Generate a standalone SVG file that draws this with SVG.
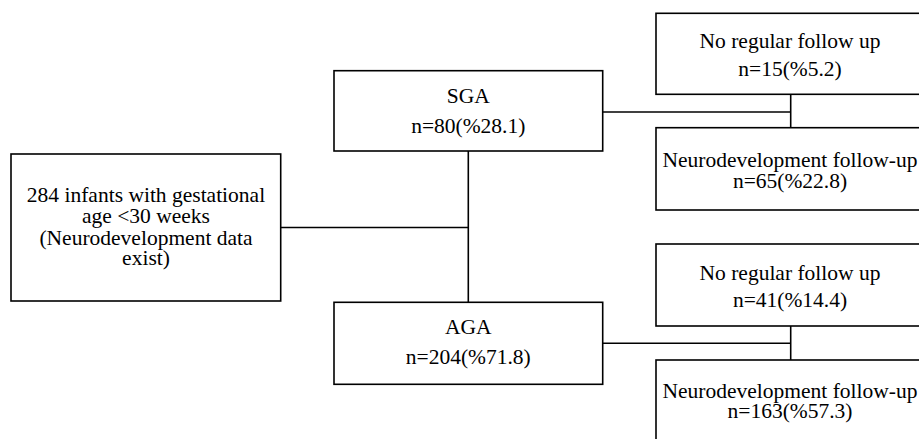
<svg xmlns="http://www.w3.org/2000/svg" width="919" height="439" viewBox="0 0 919 439">
<style>
.box{fill:#fff;stroke:#000;stroke-width:1.6}
.ln{fill:none;stroke:#000;stroke-width:1.6}
.t{font-family:'Liberation Serif','DejaVu Serif',serif;font-size:21.5px;fill:#000;text-anchor:middle}
</style>
<rect width="919" height="439" fill="#fff"/>
<g id="connectors">
<line class="ln" x1="281" y1="227.5" x2="468.3" y2="227.5"/>
<line class="ln" x1="468.3" y1="151" x2="468.3" y2="302.3"/>
<line class="ln" x1="602.7" y1="112" x2="790.7" y2="112"/>
<line class="ln" x1="790.7" y1="94.3" x2="790.7" y2="127.7"/>
<line class="ln" x1="602.7" y1="343.3" x2="790.7" y2="343.3"/>
<line class="ln" x1="790.7" y1="326" x2="790.7" y2="360"/>
</g>
<g id="root">
<rect class="box" x="11" y="154" width="269.7" height="147"/>
<text class="t" x="146" y="201.7" font-family="Liberation Serif, serif">284 infants with gestational</text>
<text class="t" x="146" y="222.7" font-family="Liberation Serif, serif">age &lt;30 weeks</text>
<text class="t" x="146" y="244.5" font-family="Liberation Serif, serif">(Neurodevelopment data</text>
<text class="t" x="146" y="264.5" font-family="Liberation Serif, serif">exist)</text>
</g>
<g id="sga">
<rect class="box" x="334" y="70.7" width="268.7" height="80.3"/>
<text class="t" x="468.3" y="103.3">SGA</text>
<text class="t" x="468.3" y="133.3">n=80(%28.1)</text>
</g>
<g id="aga">
<rect class="box" x="334" y="302.3" width="268.7" height="82"/>
<text class="t" x="468.3" y="334">AGA</text>
<text class="t" x="468.3" y="364">n=204(%71.8)</text>
</g>
<g id="sga-nofollow">
<rect class="box" x="656" y="13.3" width="280" height="81"/>
<text class="t" x="790" y="48.3">No regular follow up</text>
<text class="t" x="790" y="76">n=15(%5.2)</text>
</g>
<g id="sga-follow">
<rect class="box" x="656" y="127.7" width="280" height="82.3"/>
<text class="t" x="790" y="166.7">Neurodevelopment follow-up</text>
<text class="t" x="790" y="187.5">n=65(%22.8)</text>
</g>
<g id="aga-nofollow">
<rect class="box" x="656" y="244" width="280" height="82"/>
<text class="t" x="790" y="280">No regular follow up</text>
<text class="t" x="790" y="307.3">n=41(%14.4)</text>
</g>
<g id="aga-follow">
<rect class="box" x="656" y="360" width="280" height="100"/>
<text class="t" x="790" y="398.3">Neurodevelopment follow-up</text>
<text class="t" x="790" y="417.7">n=163(%57.3)</text>
</g>
</svg>
